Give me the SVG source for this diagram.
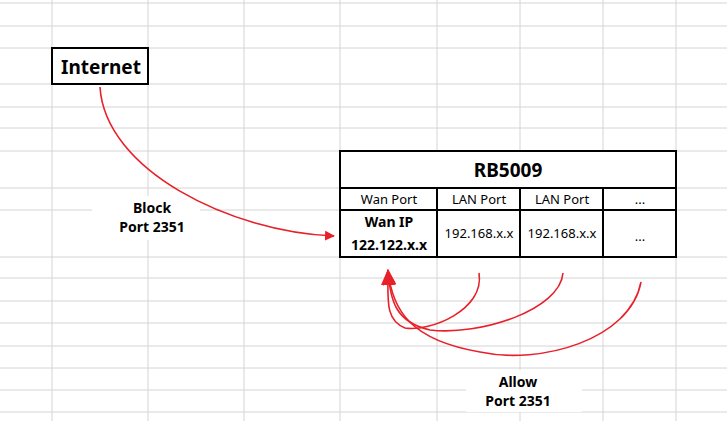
<svg xmlns="http://www.w3.org/2000/svg" width="727" height="421" viewBox="0 0 727 421">
<style>
.g{stroke:#d4d4d4;stroke-width:1}
.b{fill:#fff;stroke:#000;stroke-width:2}
.c{fill:none;stroke:#e8202a;stroke-width:1.6}
text{font-family:"Noto Sans","Open Sans",sans-serif;fill:#000}
.t{font-size:13px;text-anchor:middle}
.h{font-size:14px;font-weight:bold;text-anchor:middle}
</style>
<defs><marker id="a" markerWidth="10" markerHeight="10" refX="9" refY="5" orient="auto" markerUnits="userSpaceOnUse" viewBox="0 0 10 10"><path d="M0,0L10,5L0,10z" fill="#e8202a"/></marker>
<marker id="a2" markerWidth="16" markerHeight="14" refX="15" refY="7" orient="auto" markerUnits="userSpaceOnUse" viewBox="0 0 16 14"><path d="M0,0L16,7L0,14z" fill="#e8202a"/></marker></defs>
<rect width="727" height="421" fill="#fff"/>
<g id="grid">
<path class="g" d="M52,0V421M148,0V421M244,0V421M340,0V421M437,0V421M520,0V421M603,0V421M676,0V421M0,3H727M0,26H727M0,48H727M0,84H727M0,107H727M0,128H727M0,151H727M0,188H727M0,210H727M0,257H727M0,278H727M0,301H727M0,323H727M0,346H727M0,368H727M0,390H727M0,412H727"/>
<rect x="92" y="196" width="108" height="44" fill="#fff"/>
<rect x="466" y="370" width="116" height="42" fill="#fff"/>
</g>
<g id="internet"><rect class="b" x="52" y="48" width="96" height="36"/><text x="101" y="74" font-size="19" font-weight="bold" text-anchor="middle">Internet</text></g>
<g id="rb5009">
<rect class="b" x="340" y="151" width="336" height="106"/>
<path d="M340,188H676M340,210H676M437,188V257M520,188V257M603,188V257" stroke="#000" stroke-width="2"/>
<text x="508" y="177" font-size="19" font-weight="bold" text-anchor="middle">RB5009</text>
<text class="t" x="389" y="204">Wan Port</text>
<text class="t" x="479" y="204">LAN Port</text>
<text class="t" x="562" y="204">LAN Port</text>
<text class="t" x="640" y="204">...</text>
<text class="h" x="389" y="227">Wan IP</text>
<text class="h" x="389" y="250">122.122.x.x</text>
<text class="t" x="479" y="238">192.168.x.x</text>
<text class="t" x="562" y="238">192.168.x.x</text>
<text class="t" x="640" y="241">...</text>
</g>
<g id="labels">
<text class="h" x="152" y="213">Block</text>
<text class="h" x="152" y="232">Port 2351</text>
<text class="h" x="518" y="387">Allow</text>
<text class="h" x="518" y="406">Port 2351</text>
</g>
<g id="connectors">
<path class="c" marker-end="url(#a)" d="M100,87C105,170 230,232 334,236"/>
<path class="c" marker-end="url(#a2)" d="M479,273C485,310 430,332 405,328C385,320 388,300 388,270"/>
<path class="c" marker-end="url(#a2)" d="M563,273C560,310 480,336 430,330C395,322 390,300 388,270"/>
<path class="c" marker-end="url(#a2)" d="M641,282C630,340 540,365 480,352C410,340 392,310 388,270"/>
</g>
</svg>
